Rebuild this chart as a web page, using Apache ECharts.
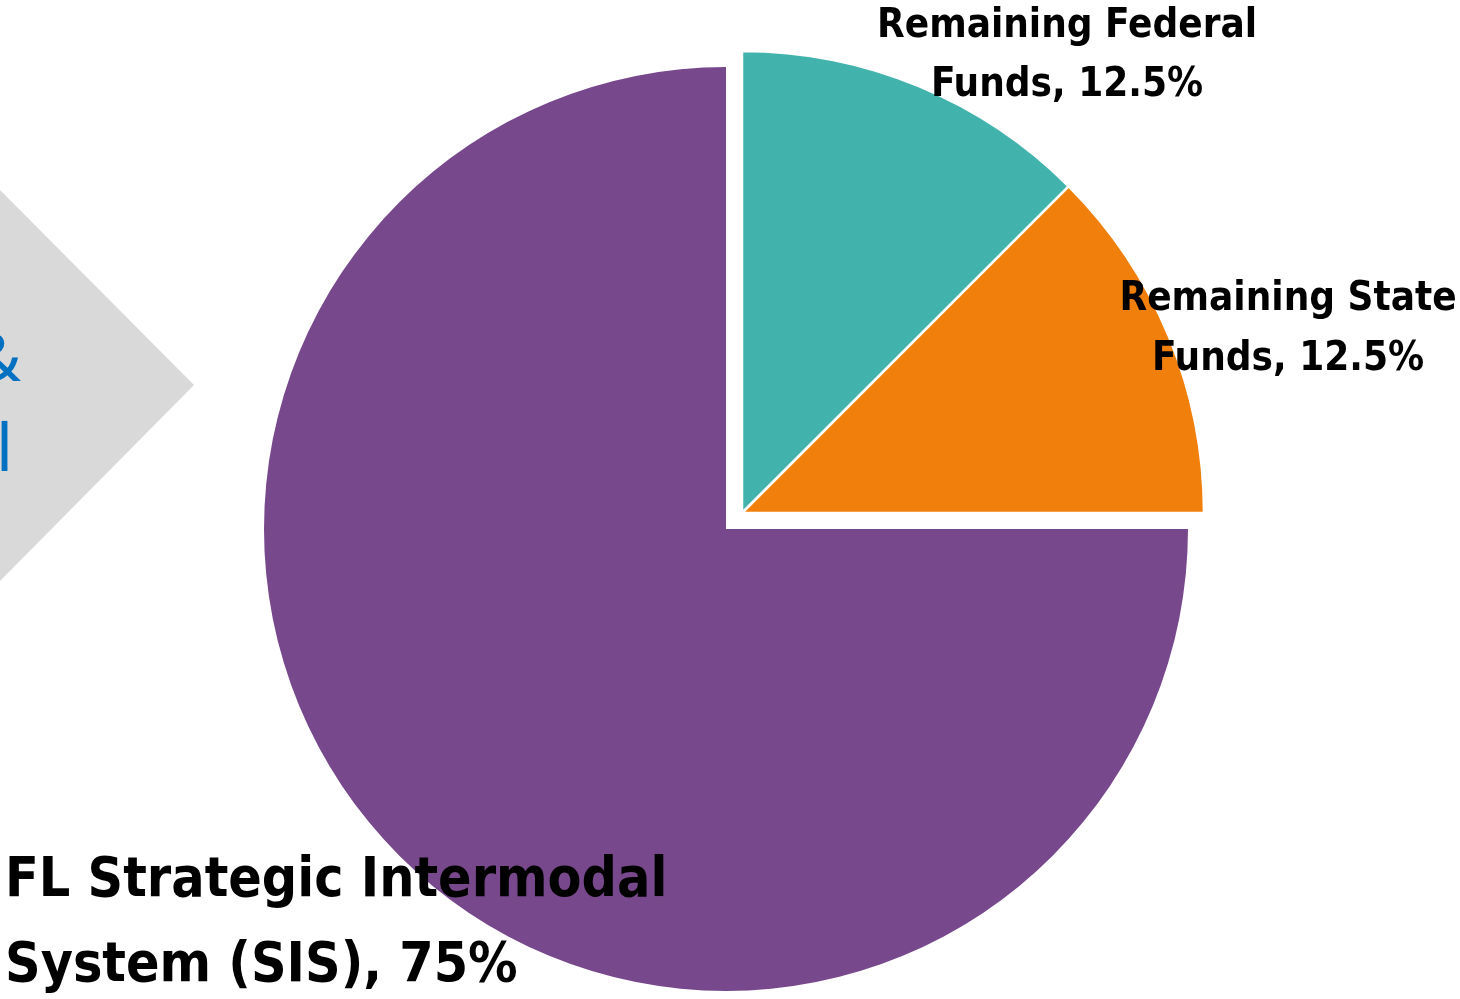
<!DOCTYPE html>
<html>
<head>
<meta charset="utf-8">
<script src="https://cdn.jsdelivr.net/npm/echarts@6/dist/echarts.min.js"></script>
<style>
html,body{margin:0;padding:0;background:#fff;}
#chart{width:1460px;height:999px;}
</style>
</head>
<body>
<div id="chart"></div>
<script>
// ---- data ----
var categories = ['FL Strategic Intermodal\nSystem (SIS)', 'Remaining Federal\nFunds', 'Remaining State\nFunds'];
var values = [75, 12.5, 12.5];
var colors = ['#77488C', '#41B3AC', '#F0800B'];
var sideTexts = ['Road &', 'Rail'];

var FONT = '"DejaVu Sans Condensed", "Liberation Sans Narrow", sans-serif';

// label placement (anchor points, centred text block)
var labelSpots = {
  0: {x: 5, y: 924, align: 'left'},
  1: {x: 1067, y: 56, align: 'center'},
  2: {x: 1288, y: 330, align: 'center'}
};
var labelSizes = {0: 55, 1: 40, 2: 40};
var lineHeights = {0: 85, 1: 59, 2: 60};

function labelFor(i) {
  return {
    show: true,
    position: 'outside',
    formatter: '{b}, {c}%',
    fontFamily: FONT,
    fontWeight: 'bold',
    fontSize: labelSizes[i],
    lineHeight: lineHeights[i],
    color: '#000',
    align: labelSpots[i].align
  };
}

var placeholder = function (v) {
  return {
    value: v, name: '',
    itemStyle: {color: 'transparent', borderWidth: 0},
    label: {show: false}, labelLine: {show: false},
    tooltip: {show: false}, emphasis: {disabled: true}
  };
};

// series 1 : main (SIS) slice
var mainData = [
  placeholder(values[1] + values[2]),
  {value: values[0], name: categories[0], itemStyle: {color: colors[0]}, label: labelFor(0)}
];
// series 2 : exploded remaining funds
var explodedData = [
  {value: values[1], name: categories[1], itemStyle: {color: colors[1]}, label: labelFor(1)},
  {value: values[2], name: categories[2], itemStyle: {color: colors[2]}, label: labelFor(2)},
  placeholder(values[0])
];

function makeLayout(offsetIdx) {
  return function (params) {
    var idx = offsetIdx(params.dataIndex);
    var s = labelSpots[idx];
    if (!s) return {};
    return {x: s.x, y: s.y, align: s.align, verticalAlign: 'middle', hideOverlap: false, moveOverlap: false};
  };
}

var chart = echarts.init(document.getElementById('chart'), null, {renderer: 'canvas'});
chart.setOption({
  animation: false,
  backgroundColor: '#fff',
  graphic: [
    {type: 'polygon', shape: {points: [[0, 190], [194, 385], [0, 581]]}, style: {fill: '#D9D9D9'}, z: 0},
    {type: 'text', x: 21, y: 362, style: {text: sideTexts[0], fill: '#0070C0', font: '66px "Noto Sans", sans-serif', textAlign: 'right', textVerticalAlign: 'middle'}, z: 1},
    {type: 'text', x: 13, y: 452, style: {text: sideTexts[1], fill: '#0070C0', font: '66px "Noto Sans", sans-serif', textAlign: 'right', textVerticalAlign: 'middle'}, z: 1}
  ],
  series: [
    {
      type: 'pie',
      center: [726, 529],
      radius: [0, 462],
      startAngle: 90,
      clockwise: true,
      avoidLabelOverlap: false,
      silent: true,
      labelLine: {show: false},
      itemStyle: {borderWidth: 0},
      data: mainData,
      labelLayout: makeLayout(function (d) { return d === 1 ? 0 : -1; }),
      z: 2
    },
    {
      type: 'pie',
      center: [742, 513],
      radius: [0, 462],
      startAngle: 90,
      clockwise: true,
      avoidLabelOverlap: false,
      silent: true,
      labelLine: {show: false},
      itemStyle: {borderWidth: 2.5, borderColor: '#fff'},
      data: explodedData,
      labelLayout: makeLayout(function (d) { return d === 0 ? 1 : (d === 1 ? 2 : -1); }),
      z: 3
    }
  ]
});
</script>
</body>
</html>
